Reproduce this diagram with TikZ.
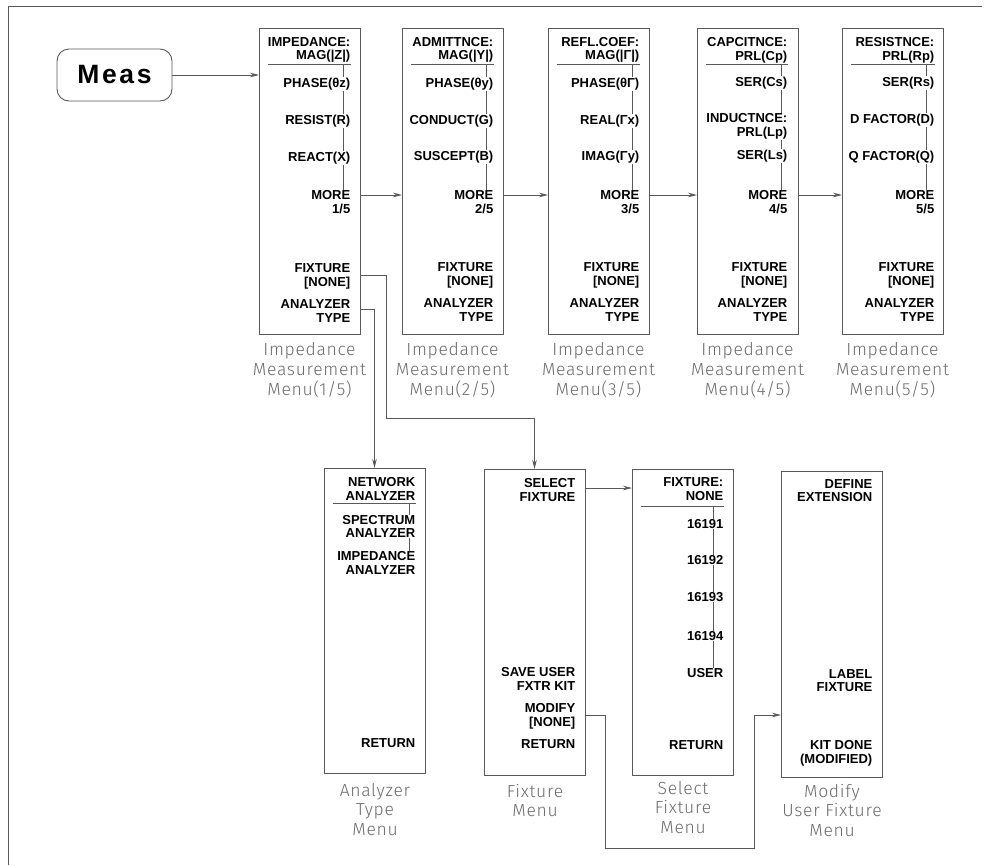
\documentclass[tikz,border=0pt]{standalone}
\usepackage{fontspec}
\setmainfont{Liberation Sans}
\newfontfamily\menufont{Liberation Sans}[Scale=1.0]
\newfontfamily\capfontfam{Fira Sans Light}[LetterSpace=4]
\usetikzlibrary{arrows.meta}
\definecolor{linegray}{gray}{0.35}
\definecolor{capgray}{gray}{0.42}
\tikzset{
  menubox/.style={draw=linegray, line width=0.9pt, inner sep=0pt, outer sep=0pt, minimum width=101pt, anchor=north west},
  skey/.style={font=\menufont\bfseries\fontsize{13}{13.8}\selectfont, align=right, anchor=east, fill=white, inner sep=0.5pt, text=black},
  captext/.style={font=\capfontfam\fontsize{17.5}{20}\selectfont, text=capgray, align=center, anchor=north, inner sep=0pt},
  bcaptext/.style={captext, font=\capfontfam\fontsize{17.5}{19.5}\selectfont},
  sepline/.style={draw=linegray, line width=0.8pt},
  vline/.style={draw=linegray, line width=0.7pt},
  conn/.style={draw=linegray, line width=0.8pt, -{Stealth[length=9pt,width=4.5pt]}},
  measbox/.style={draw=linegray, line width=0.9pt, rounded corners=12pt, minimum width=115pt, minimum height=52pt, inner sep=0pt, font=\bfseries\addfontfeatures{LetterSpace=10}\fontsize{26.5}{28}\selectfont}
}
\begin{document}
\begin{tikzpicture}[x=1pt,y=-1pt]
\useasboundingbox (0,0) rectangle (987,865);
% frame
\draw[linegray, line width=0.8pt] (8,865) -- (8,6) -- (982,6);

% Meas key
\node[measbox] (meas) at (114.5,75) {Meas};

% top menu boxes
\node[menubox, minimum height=306pt] (m1) at (259,28) {};
\node[menubox, minimum height=306pt] (m2) at (402,28) {};
\node[menubox, minimum height=306pt] (m3) at (548,28) {};
\node[menubox, minimum height=306pt] (m4) at (697,28) {};
\node[menubox, minimum height=306pt] (m5) at (842,28) {};

% vertical softkey lines (top menus)
\draw[vline] (343,64) -- (343,202);
\draw[vline] (486,64) -- (486,202);
\draw[vline] (632,64) -- (632,202);
\draw[vline] (781,64) -- (781,202);
\draw[vline] (926,64) -- (926,202);

% menu 1
\node[skey] (m1a) at (351,50) {IMPEDANCE:\\MAG(|Z|)};
\node[skey] (m1b) at (351,84) {PHASE(θz)};
\node[skey] (m1c) at (351,121) {RESIST(R)};
\node[skey] (m1d) at (351,158) {REACT(X)};
\node[skey] (m1e) at (351,202) {MORE\\1/5};
\node[skey] (m1f) at (351,276) {FIXTURE\\{}[NONE]};
\node[skey] (m1g) at (351,311) {ANALYZER\\TYPE};
% menu 2
\node[skey] (m2a) at (494,50) {ADMITTNCE:\\MAG(|Y|)};
\node[skey] (m2b) at (494,84) {PHASE(θy)};
\node[skey] (m2c) at (494,121) {CONDUCT(G)};
\node[skey] (m2d) at (494,157) {SUSCEPT(B)};
\node[skey] (m2e) at (494,202) {MORE\\2/5};
\node[skey] (m2f) at (494,275) {FIXTURE\\{}[NONE]};
\node[skey] (m2g) at (494,310) {ANALYZER\\TYPE};
% menu 3
\node[skey] (m3a) at (640,50) {REFL.COEF:\\MAG(|Γ|)};
\node[skey] (m3b) at (640,84) {PHASE(θΓ)};
\node[skey] (m3c) at (640,121) {REAL(Γx)};
\node[skey] (m3d) at (640,157) {IMAG(Γy)};
\node[skey] (m3e) at (640,202) {MORE\\3/5};
\node[skey] (m3f) at (640,275) {FIXTURE\\{}[NONE]};
\node[skey] (m3g) at (640,310) {ANALYZER\\TYPE};
% menu 4
\node[skey] (m4a) at (788,50) {CAPCITNCE:\\PRL(Cp)};
\node[skey] (m4b) at (788,83) {SER(Cs)};
\node[skey] (m4c) at (788,126.5) {INDUCTNCE:\\PRL(Lp)};
\node[skey] (m4d) at (788,156) {SER(Ls)};
\node[skey] (m4e) at (788,202) {MORE\\4/5};
\node[skey] (m4f) at (788,275) {FIXTURE\\{}[NONE]};
\node[skey] (m4g) at (788,310) {ANALYZER\\TYPE};
% menu 5
\node[skey] (m5a) at (935,50) {RESISTNCE:\\PRL(Rp)};
\node[skey] (m5b) at (935,83) {SER(Rs)};
\node[skey] (m5c) at (935,120) {D FACTOR(D)};
\node[skey] (m5d) at (935,157) {Q FACTOR(Q)};
\node[skey] (m5e) at (935,202) {MORE\\5/5};
\node[skey] (m5f) at (935,275) {FIXTURE\\{}[NONE]};
\node[skey] (m5g) at (935,310) {ANALYZER\\TYPE};

% separators
\draw[sepline] (268,64) -- (351,64);
\draw[sepline] (411,64) -- (494,64);
\draw[sepline] (557,64) -- (640,64);
\draw[sepline] (706,64) -- (788,64);
\draw[sepline] (851,64) -- (935,64);

% captions top
\node[captext] (c1) at (309.5,342) {Impedance\\Measurement\\Menu(1/5)};
\node[captext] (c2) at (452.5,342) {Impedance\\Measurement\\Menu(2/5)};
\node[captext] (c3) at (598.5,342) {Impedance\\Measurement\\Menu(3/5)};
\node[captext] (c4) at (747.5,342) {Impedance\\Measurement\\Menu(4/5)};
\node[captext] (c5) at (892.5,342) {Impedance\\Measurement\\Menu(5/5)};

% bottom menu boxes
\node[menubox, minimum height=305pt] (an) at (324,468) {};
\node[menubox, minimum height=306pt] (fx) at (484,469) {};
\node[menubox, minimum height=306pt] (sf) at (632,469) {};
\node[menubox, minimum height=306pt] (md) at (781,471) {};

\draw[vline] (409,503) -- (409,563);
\draw[vline] (713,506) -- (713,673);

% analyzer type menu
\node[skey] (ana) at (416,489) {NETWORK\\ANALYZER};
\node[skey] (anb) at (416,526.5) {SPECTRUM\\ANALYZER};
\node[skey] (anc) at (416,563) {IMPEDANCE\\ANALYZER};
\node[skey] (and) at (416,743) {RETURN};
\draw[sepline] (333,503) -- (416,503);
% fixture menu
\node[skey] (fxa) at (576,490) {SELECT\\FIXTURE};
\node[skey] (fxb) at (576,679) {SAVE USER\\FXTR KIT};
\node[skey] (fxc) at (576,716.5) {MODIFY\\{}[NONE]};
\node[skey] (fxd) at (576,744) {RETURN};
% select fixture menu
\node[skey] (sfa) at (724,489) {FIXTURE:\\NONE};
\node[skey] (sfb) at (724,524) {16191};
\node[skey] (sfc) at (724,560) {16192};
\node[skey] (sfd) at (724,597) {16193};
\node[skey] (sfe) at (724,636) {16194};
\node[skey] (sff) at (724,673) {USER};
\node[skey] (sfg) at (724,745) {RETURN};
\draw[sepline] (641,506) -- (724,506);
% modify user fixture menu
\node[skey] (mda) at (873,490.5) {DEFINE\\EXTENSION};
\node[skey] (mdb) at (873,680.5) {LABEL\\FIXTURE};
\node[skey] (mdc) at (873,753.5) {KIT DONE\\(MODIFIED)};

% captions bottom
\node[bcaptext] (c6) at (375,783) {Analyzer\\Type\\Menu};
\node[bcaptext] (c7) at (535,784) {Fixture\\Menu};
\node[bcaptext] (c8) at (683,781) {Select\\Fixture\\Menu};
\node[bcaptext] (c9) at (832,784) {Modify\\User Fixture\\Menu};

% connectors
\draw[conn] (meas.east) -- (m1.west |- meas.east);
\draw[conn] (m1.east |- 0,195) -- (m2.west |- 0,195);
\draw[conn] (m2.east |- 0,195) -- (m3.west |- 0,195);
\draw[conn] (m3.east |- 0,195) -- (m4.west |- 0,195);
\draw[conn] (m4.east |- 0,195) -- (m5.west |- 0,195);

\coordinate (j1) at (386,418);
\draw[conn] (m1.east |- 0,275) -| (j1) -| (fx.north);
\draw[conn] (m1.east |- 0,309) -| (an.north);
\draw[conn] (fx.east |- 0,488) -- (sf.west |- 0,488);
\coordinate (j2) at (605,848);
\coordinate (j3) at (754,715);
\draw[conn] (fx.east |- j3) -| (j2) -| (j3) -- (md.west |- j3);
\end{tikzpicture}
\end{document}
